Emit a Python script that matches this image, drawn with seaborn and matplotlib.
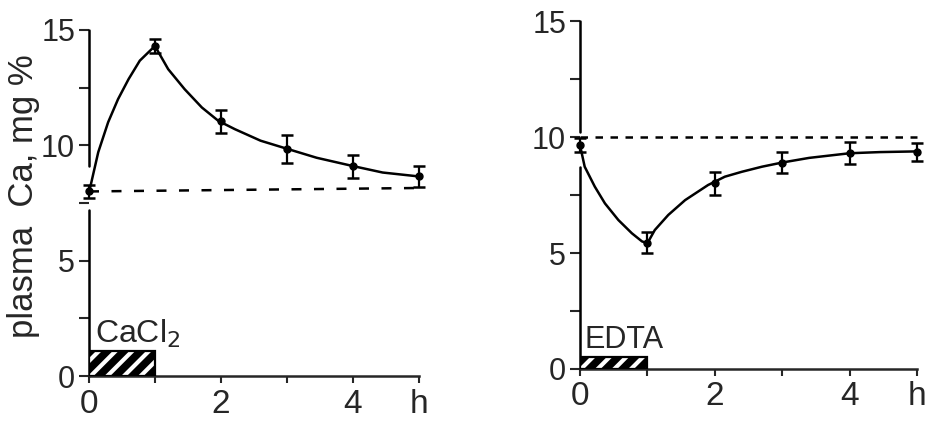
import matplotlib
matplotlib.use("Agg")
import matplotlib.pyplot as plt
import seaborn as sns
import pandas as pd

# measured points (hours, plasma Ca mg %)
hours = [0, 1, 2, 3, 4, 5]
cacl2_mean = [8.0, 14.3, 11.05, 9.85, 9.1, 8.65]
cacl2_err = [0.3, 0.3, 0.5, 0.6, 0.5, 0.45]
edta_mean = [9.65, 5.45, 8.0, 8.9, 9.3, 9.35]
edta_err = [0.3, 0.45, 0.48, 0.47, 0.48, 0.4]

# fitted curves
cacl2_curve_t = [0, 0.02, 0.14, 0.29, 0.44, 0.6, 0.77, 0.95, 1.0, 1.2, 1.45, 1.71,
                 1.96, 2.21, 2.6, 3.0, 3.45, 4.0, 4.45, 5.0]
cacl2_curve_y = [8.0, 8.2, 9.7, 11.0, 12.0, 12.87, 13.67, 14.17, 14.3, 13.3, 12.43,
                 11.64, 11.06, 10.7, 10.2, 9.85, 9.46, 9.1, 8.82, 8.65]
edta_curve_t = [0, 0.07, 0.22, 0.37, 0.57, 0.77, 0.92, 1.0, 1.11, 1.31, 1.56, 1.9,
                2.15, 2.4, 2.7, 3.0, 3.4, 4.0, 4.45, 5.0]
edta_curve_y = [9.65, 8.72, 7.86, 7.14, 6.42, 5.85, 5.5, 5.42, 5.99, 6.64, 7.28,
                7.93, 8.29, 8.5, 8.72, 8.9, 9.1, 9.3, 9.35, 9.38]

# baselines (dashed) and infusion bars
cacl2_base_t = [0, 5]
cacl2_base_y = [8.0, 8.15]
edta_base_t = [0, 5]
edta_base_y = [10.0, 10.0]
infusion = ["CaCl$_2$", "EDTA"]
infusion_height = [1.1, 0.5]
infusion_span = [0, 1]

x_ticks = [0, 1, 2, 3, 4, 5]
x_labels = ["0", "", "2", "", "4", "h"]
y_ticks = [0, 5, 10, 15]
y_minor = [2.5, 7.5, 12.5]

sns.set_style("ticks")
plt.rcParams["font.family"] = ["Liberation Sans", "DejaVu Sans"]
plt.rcParams["hatch.linewidth"] = 3.0

fig = plt.figure(figsize=(9.29, 4.22), dpi=100)
ax1 = fig.add_axes([0.0958, 0.109, 0.3552, 0.820])
ax2 = fig.add_axes([0.6243, 0.1256, 0.3628, 0.8246])

panels = [
    (ax1, cacl2_mean, cacl2_err, cacl2_curve_t, cacl2_curve_y, cacl2_base_t, cacl2_base_y,
     infusion[0], infusion_height[0], (0.09, 1.45), 23, (9.1, 7.2), (0, (4, 5))),
    (ax2, edta_mean, edta_err, edta_curve_t, edta_curve_y, edta_base_t, edta_base_y,
     infusion[1], infusion_height[1], (0.07, 0.9), 22, (10.2, 8.7), (0, (3, 3))),
]

for (ax, mean, err, ct, cy, bt, by, name, bh, txt, fs, gap, dash) in panels:
    curve = pd.DataFrame({"t": ct, "y": cy})
    sns.lineplot(data=curve, x="t", y="y", ax=ax, color="black", linewidth=1.8,
                 clip_on=False)
    ax.errorbar(hours, mean, yerr=err, fmt="o", color="black", markersize=5,
                capsize=4, capthick=1.8, elinewidth=1.6, clip_on=False, zorder=5)
    ax.plot(bt, by, color="black", linewidth=1.8, linestyle=dash, clip_on=False)

    # hatched infusion bar
    width = infusion_span[1] - infusion_span[0]
    ax.bar(infusion_span[0], bh, width=width, align="edge", facecolor="black",
           edgecolor="white", hatch="//", linewidth=0, zorder=3)
    ax.bar(infusion_span[0], bh, width=width, align="edge", fill=False,
           edgecolor="black", linewidth=1.6, zorder=4)
    ax.text(txt[0], txt[1], name, fontsize=fs, ha="left", va="baseline")

    ax.set_xlim(0, 5)
    ax.set_ylim(0, 15)
    ax.set_xticks(x_ticks)
    ax.set_xticklabels(x_labels)
    ax.set_yticks(y_ticks)
    ax.set_yticks(y_minor, minor=True)
    ax.tick_params(axis="x", labelsize=24, length=5, width=1.5, pad=4, direction="out")
    ax.tick_params(axis="y", which="both", labelsize=22, length=7, width=1.5, pad=3,
                   direction="out")

    # broken y axis around the first point
    ax.spines["left"].set_visible(False)
    ax.plot([0, 0], [0, gap[1]], color="black", linewidth=1.8, clip_on=False)
    ax.plot([0, 0], [gap[0], 15], color="black", linewidth=1.8, clip_on=False)
    ax.spines["bottom"].set_linewidth(1.8)
    ax.spines["right"].set_visible(False)
    ax.spines["top"].set_visible(False)
    ax.set_xlabel("")
    ax.set_ylabel("")

ax1.set_ylabel("plasma  Ca, mg %", fontsize=25)
ax1.yaxis.set_label_coords(-0.148, 0.52)

fig.savefig("out.png", dpi=100)
